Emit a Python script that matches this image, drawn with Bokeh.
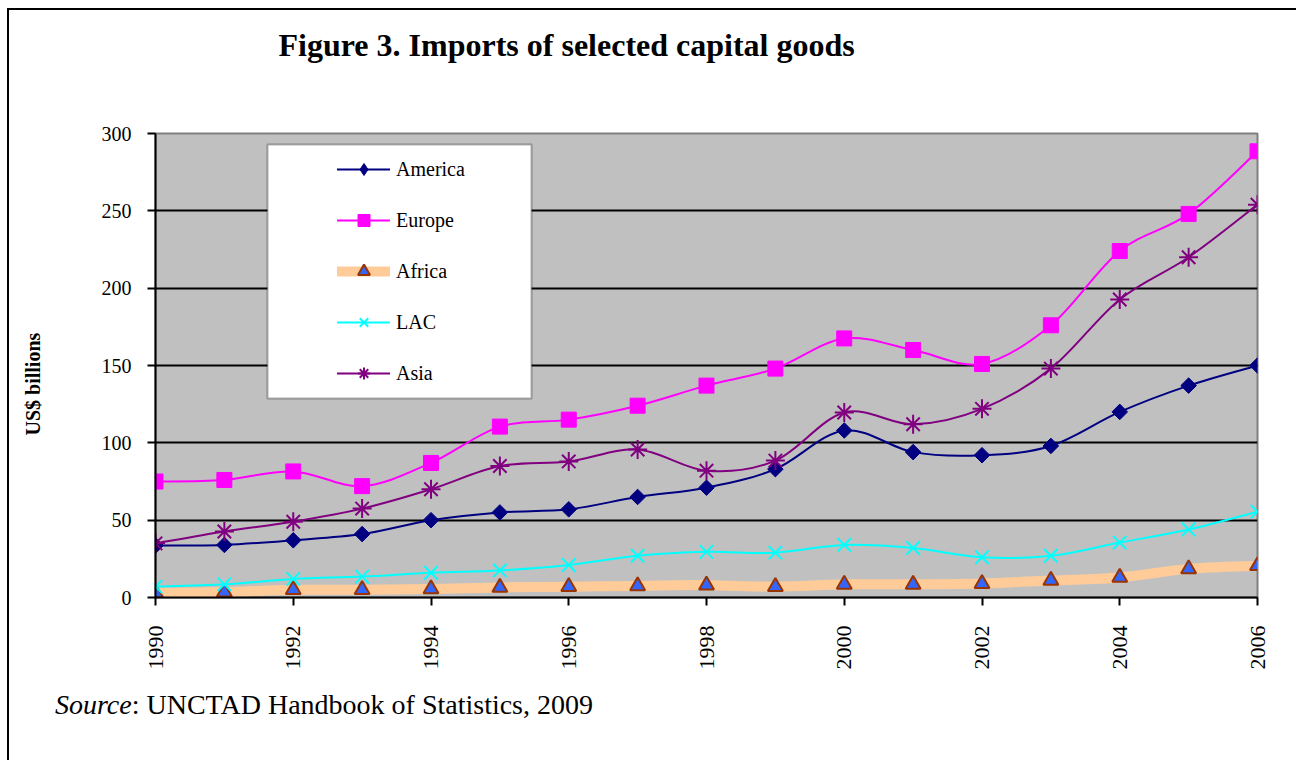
import math
from bokeh.plotting import figure
from bokeh.models import (Range1d, FixedTicker, Legend, LegendItem, BoxAnnotation,
                          Title, ColumnDataSource, Div)
from bokeh.layouts import column
from bokeh.embed import file_html
from bokeh.resources import INLINE

years = list(range(1990, 2007))
america = [33.6, 34, 37, 41, 50, 55, 57, 65, 71, 83, 108, 94, 92, 98, 120, 137, 150]
europe = [75, 76, 81.5, 72, 87, 110.5, 115, 124, 137, 148, 167.5, 160, 151, 176, 224, 248, 288.5]
africa = [3, 3.5, 5, 5, 5.5, 6.5, 7, 7.5, 8, 7, 8.5, 8.5, 9, 11, 13, 18.5, 20.5]
lac = [7, 8.5, 12, 13.5, 16, 17.5, 21, 27, 29.5, 29, 34, 32, 26, 27, 35.5, 44, 55.5]
asia = [35, 42.7, 49, 57.5, 70, 85, 88, 95.7, 82, 88.5, 119.6, 112, 122, 148, 192.7, 220, 254]
series_names = ["America", "Europe", "Africa", "LAC", "Asia"]
y_ticks = [0, 50, 100, 150, 200, 250, 300]
x_ticks = list(range(1990, 2007, 2))

SERIF = "Liberation Serif"

OX, OY = 9, 10            # page offset of the figure (margin + frame border)
W, H = 1296 - OX, 670
FL, FR, FT, FB = 155 - OX, 1257 - OX, 133 - OY, 597 - OY

p = figure(width=W, height=H, output_backend="svg", toolbar_location=None,
           x_range=Range1d(1990, 2006), y_range=Range1d(0, 300),
           min_border_left=FL, min_border_right=W - FR,
           min_border_top=FT, min_border_bottom=H - FB,
           background_fill_color="#C0C0C0", border_fill_color="white")
p.outline_line_color = "#808080"
p.outline_line_width = 2

p.xgrid.visible = False
p.ygrid.ticker = FixedTicker(ticks=y_ticks)
p.ygrid.grid_line_color = "black"
p.ygrid.grid_line_width = 2

p.yaxis.ticker = FixedTicker(ticks=y_ticks)
p.xaxis.ticker = FixedTicker(ticks=x_ticks)
for ax in (p.xaxis[0], p.yaxis[0]):
    ax.axis_line_color = "black"
    ax.axis_line_width = 2
    ax.major_tick_line_color = "black"
    ax.major_tick_line_width = 2
    ax.major_tick_out = 8
    ax.major_tick_in = 0
    ax.minor_tick_line_color = None
    ax.major_label_text_font = SERIF
    ax.major_label_text_color = "black"
p.yaxis.major_label_text_font_size = "20px"
p.yaxis.major_label_standoff = 16
p.xaxis.major_label_text_font_size = "22px"
p.xaxis.major_label_orientation = math.pi / 2
p.xaxis.major_label_standoff = 20

# spacer panels (blank text) that push the titles outward, then the titles
p.add_layout(Title(text=" ", text_font_size="1px", standoff=68), "above")
p.add_layout(Title(text="Figure 3. Imports of selected capital goods", align="left",
                   vertical_align="bottom", offset=123, standoff=0,
                   text_font=SERIF, text_font_size="32px",
                   text_font_style="bold", text_color="black"), "above")
p.add_layout(Title(text=" ", text_font_size="1px", standoff=52), "left")
p.add_layout(Title(text="US$ billions", align="left", vertical_align="bottom",
                   offset=162, standoff=0,
                   text_font=SERIF, text_font_size="20px", text_font_style="bold",
                   text_color="black"), "left")


def bezier_parts(xs, ys):
    n = len(xs)
    out = dict(x0=[], y0=[], x1=[], y1=[], cx0=[], cy0=[], cx1=[], cy1=[])
    for i in range(n - 1):
        xm, ym = (xs[i - 1], ys[i - 1]) if i > 0 else (xs[i], ys[i])
        xp, yp = (xs[i + 2], ys[i + 2]) if i + 2 < n else (xs[i + 1], ys[i + 1])
        out["x0"].append(xs[i]); out["y0"].append(ys[i])
        out["x1"].append(xs[i + 1]); out["y1"].append(ys[i + 1])
        out["cx0"].append(xs[i] + (xs[i + 1] - xm) / 6.0)
        out["cy0"].append(ys[i] + (ys[i + 1] - ym) / 6.0)
        out["cx1"].append(xs[i + 1] - (xp - xs[i]) / 6.0)
        out["cy1"].append(ys[i + 1] - (yp - ys[i]) / 6.0)
    return ColumnDataSource(out)


styles = {
    "America": dict(line_color="#000080", line_width=2, marker="square", size=11, angle=math.pi / 4,
                    legend_marker="diamond", m_fill="#000080", m_line="#000080", m_lw=1),
    "Europe": dict(line_color="#FF00FF", line_width=2, marker="square", size=15, angle=0,
                   legend_marker="square", m_fill="#FF00FF", m_line="#FF00FF", m_lw=1),
    "Africa": dict(line_color="#FFCC99", line_width=10, marker="triangle", size=15, angle=0,
                   legend_marker="triangle", m_fill="#3366FF", m_line="#993300", m_lw=2),
    "LAC": dict(line_color="#00FFFF", line_width=2, marker="x", size=19, angle=0,
                legend_marker="x", m_fill=None, m_line="#00FFFF", m_lw=2),
    "Asia": dict(line_color="#800080", line_width=2, marker="asterisk", size=19, angle=0,
                 legend_marker="asterisk", m_fill=None, m_line="#800080", m_lw=2),
}
data = {"America": america, "Europe": europe, "Africa": africa, "LAC": lac, "Asia": asia}

legend_items = []
for name in series_names:
    st = styles[name]
    vals = data[name]
    p.bezier(x0="x0", y0="y0", x1="x1", y1="y1", cx0="cx0", cy0="cy0", cx1="cx1", cy1="cy1",
             source=bezier_parts(years, vals), line_color=st["line_color"],
             line_width=st["line_width"], line_cap="round")
    p.scatter(years, vals, marker=st["marker"], size=st["size"], angle=st["angle"],
              fill_color=st["m_fill"], line_color=st["m_line"], line_width=st["m_lw"])
    # legend-only samples (a single missing value, so nothing is drawn in the plot)
    l_line = p.line(years[:1], [float("nan")], line_color=st["line_color"],
                    line_width=st["line_width"], line_cap="round")
    l_mark = p.scatter(years[:1], [float("nan")], marker=st["legend_marker"],
                       fill_color=st["m_fill"], line_color=st["m_line"], line_width=st["m_lw"])
    legend_items.append(LegendItem(label=name, renderers=[l_line, l_mark]))

# legend box (white, black border)
px_x = (2006 - 1990) / (FR - FL)
px_y = 300 / (FB - FT)
box = BoxAnnotation(left=1990 + (267 - 155) * px_x, right=1990 + (531 - 155) * px_x,
                    top=(597 - 144) * px_y, bottom=(597 - 398) * px_y,
                    fill_color="white", fill_alpha=1, line_color="black", line_width=2)
p.add_layout(box)

legend = Legend(items=legend_items, location=(182, 209), padding=10, margin=0,
                glyph_width=53, glyph_height=30, label_height=30, spacing=21,
                label_standoff=6, label_text_font=SERIF, label_text_font_size="20px",
                label_text_color="black",
                background_fill_alpha=0, border_line_color=None)
p.add_layout(legend)

src = Div(text='<div style="font-family: \'Liberation Serif\', serif; font-size: 28px; '
               'color: black; padding-top: 0px; padding-left: 41px; white-space: nowrap;">'
               '<i>Source</i>: UNCTAD Handbook of Statistics, 2009</div>',
          width=W, height=760 - OY - H)

layout = column(p, src, spacing=0,
                styles={"border-left": "2px solid black", "border-top": "2px solid black",
                        "margin-left": "7px", "margin-top": "8px"})

open("out.html", "w").write(file_html(layout, INLINE))
